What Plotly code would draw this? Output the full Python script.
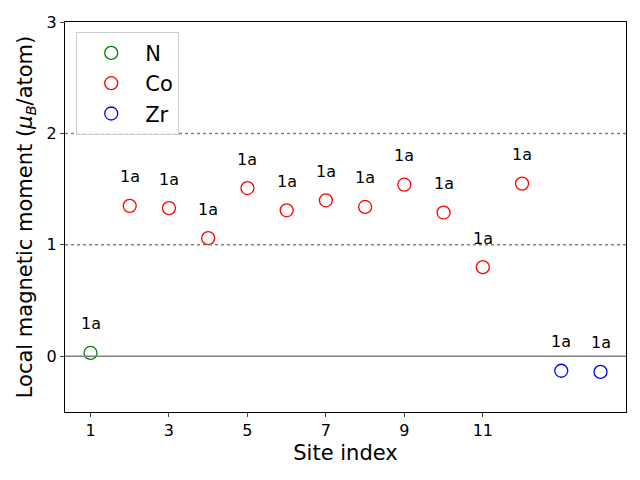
import plotly.graph_objects as go

# local moments per site
n_sites = [1]
n_moments = [0.03]
co_sites = [2, 3, 4, 5, 6, 7, 8, 9, 10, 11, 12]
co_moments = [1.35, 1.33, 1.06, 1.51, 1.31, 1.40, 1.34, 1.54, 1.29, 0.80, 1.55]
zr_sites = [13, 14]
zr_moments = [-0.13, -0.14]
wyckoff = ['1a'] * 14

fig = go.Figure()
for name, xs, ys, col in [('N', n_sites, n_moments, 'green'),
                          ('Co', co_sites, co_moments, 'red'),
                          ('Zr', zr_sites, zr_moments, 'blue')]:
    fig.add_trace(go.Scatter(x=xs, y=ys, mode='markers', name=name,
                             marker=dict(symbol='circle-open', size=13, color=col,
                                         line=dict(width=1.3, color=col))))

all_x = n_sites + co_sites + zr_sites
all_y = n_moments + co_moments + zr_moments
for x, y, lab in zip(all_x, all_y, wyckoff):
    fig.add_annotation(x=x, y=y, text=lab, showarrow=False, yshift=29,
                       font=dict(size=16, color='black'))

fig.add_hline(y=0, line=dict(color='gray', width=1.5))
fig.add_hline(y=1, line=dict(color='gray', width=1.5, dash='dot'))
fig.add_hline(y=2, line=dict(color='gray', width=1.5, dash='dot'))

# page body adds an 8px margin, so the figure is a bit smaller than the window
fig.update_layout(
    width=632, height=472,
    margin=dict(l=57, r=14, t=14, b=68, autoexpand=False),
    plot_bgcolor='white', paper_bgcolor='white',
    font=dict(family='DejaVu Sans', color='black'),
    legend=dict(x=0.02, y=0.975, xanchor='left', yanchor='top',
                bgcolor='rgba(255,255,255,0.8)', bordercolor='#cccccc', borderwidth=1,
                font=dict(size=21), itemwidth=58, tracegroupgap=2),
    showlegend=True,
)
fig.update_xaxes(range=[0.35, 14.65], tickvals=[1, 3, 5, 7, 9, 11], automargin=False,
                 title=dict(text='Site index', font=dict(size=21), standoff=6),
                 showgrid=False, zeroline=False, showline=True, linecolor='black',
                 mirror=True, ticks='outside', ticklen=4, tickfont=dict(size=16))
fig.update_yaxes(range=[-0.5, 3], tickvals=[0, 1, 2, 3], automargin=False,
                 title=dict(text='Local magnetic moment (<i>μ</i><sub><i>B</i></sub>/atom)',
                            font=dict(size=21), standoff=8),
                 showgrid=False, zeroline=False, showline=True, linecolor='black',
                 mirror=True, ticks='outside', ticklen=4, tickfont=dict(size=16))

fig.write_html('out.html')
